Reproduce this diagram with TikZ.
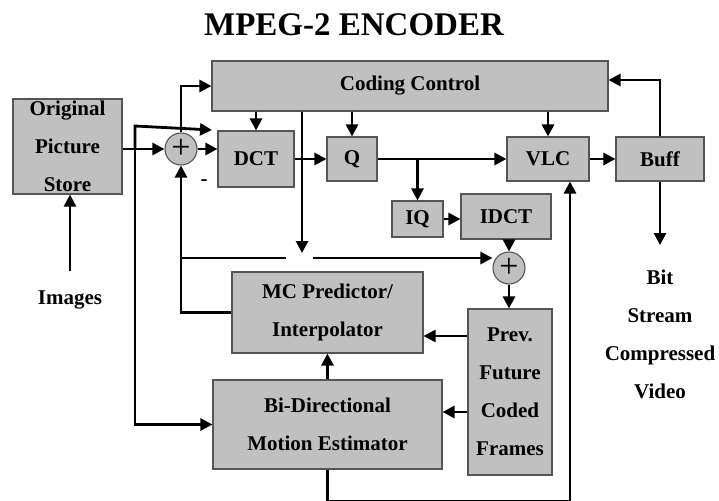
\documentclass[tikz,border=0pt]{standalone}
\usepackage{fontspec}
\setmainfont{Liberation Serif}
\usepackage{tikz}
\usetikzlibrary{arrows.meta, positioning, calc}
\definecolor{boxgray}{HTML}{C0C0C0}
\definecolor{edgegray}{HTML}{555555}
\tikzset{
    block/.style={rectangle, draw=edgegray, line width=1.1pt, fill=boxgray, inner sep=0pt, align=center, text centered, font=\fontsize{21}{38}\selectfont\bfseries},
    sumnode/.style={circle, draw=edgegray, line width=1.1pt, fill=boxgray, minimum size=32pt, inner sep=0pt, font=\fontsize{34}{34}\selectfont},
    lbl/.style={align=center, inner sep=0pt, font=\fontsize{21}{38}\selectfont\bfseries},
    arrow/.style={line width=2.8pt, -{Triangle[length=12pt,width=12pt]}},
    wire/.style={line width=2.8pt}
}

\begin{document}
\begin{tikzpicture}[x=1pt, y=-1pt]
        \useasboundingbox (0,0) rectangle (719,500);
        % Title
        \node (title) [font=\fontsize{33}{33}\selectfont\bfseries] at (354,25) {MPEG-2 ENCODER};

        % Blocks
        \node (store) [block, minimum width=109pt, minimum height=95pt] at (67.5,146.5) {Original\\Picture\\Store};
        \node (cc) [block, minimum width=396pt, minimum height=50pt] at (410,86) {Coding Control};
        \node (dct) [block, minimum width=76pt, minimum height=56pt] at (256,159) {DCT};
        \node (q) [block, minimum width=50pt, minimum height=44pt] at (352,159) {Q};
        \node (vlc) [block, minimum width=82pt, minimum height=44pt] at (548,159) {VLC};
        \node (buff) [block, minimum width=88pt, minimum height=44pt] at (660,159) {Buff};
        \node (iq) [block, minimum width=51pt, minimum height=36pt] at (417.5,219) {IQ};
        \node (idct) [block, minimum width=90pt, minimum height=45pt] at (506,216.5) {IDCT};
        \node (mc) [block, minimum width=191pt, minimum height=81pt] at (327.5,312.5) {MC Predictor/\\Interpolator};
        \node (me) [block, minimum width=229pt, minimum height=89pt] at (327.5,424.5) {Bi-Directional\\Motion Estimator};
        \node (frames) [block, minimum width=84pt, minimum height=166pt] at (510,392) {Prev.\\Future\\Coded\\Frames};

        % Adders
        \node (sum1) [sumnode] at (181,149) {+};
        \node (sum2) [sumnode] at (509,268) {+};

        % Labels
        \node (images) [lbl] at (70,300) {Images};
        \node (out) [lbl] at (660,334) {Bit\\Stream\\Compressed\\Video};
        \node (minus) [lbl] at (204,183) {-};

        % Helper points
        \coordinate (j1) at (135,149);
        \coordinate (ccin) at (212,130);
        \coordinate (gap) at (302,253);
        \coordinate (j2) at (181,258);
        \coordinate (gapL) at (286,258);
        \coordinate (gapR) at (313,258);
        \coordinate (fm) at (0,336);
        \coordinate (fe) at (0,412);
        \coordinate (fb) at (0,80);
        \coordinate (bitend) at (660,245);
        \coordinate (bot) at (0,501);
        \coordinate (vb) at (570,0);

        % Flows
        \draw[arrow] (images.north) ++(0,-20) -- (images.north |- store.south);
        \draw[arrow] (store.east |- sum1) -- (sum1.west);
        \draw[arrow] (j1) -- (135,126) -- (ccin);
        \draw[arrow] (j1) |- (me.west);
        \draw[arrow] (sum1.north) |- (cc.west);
        \draw[arrow] (sum1.east) -- (sum1.east -| dct.west);
        \draw[arrow] (dct.north |- cc.south) -- (dct.north);
        \draw[arrow] (q.north |- cc.south) -- (q.north);
        \draw[arrow] (vlc.north |- cc.south) -- (vlc.north);
        \draw[arrow] (gap |- cc.south) -- (gap);
        \draw[arrow] (dct.east) -- (q.west);
        \draw[arrow] (q.east) -- (vlc.west);
        \draw[arrow] (iq.north |- q.east) -- (iq.north);
        \draw[arrow] (iq.east) -- (iq.east -| idct.west);
        \draw[arrow] (sum2.north |- idct.south) -- (sum2.north);
        \draw[arrow] (sum2.south) -- (sum2.south |- frames.north);
        \draw[arrow] (frames.west |- fm) -- (mc.east |- fm);
        \draw[arrow] (frames.west |- fe) -- (me.east |- fe);
        \draw[arrow] (me.north) -- (mc.south);
        \draw[arrow] (mc.west) -| (sum1.south);
        \draw[wire] (j2) -- (gapL);
        \draw[arrow] (gapR) -- (gapR -| sum2.west);
        \draw[arrow] (vlc.east) -- (buff.west);
        \draw[arrow] (buff.north) |- (cc.east |- fb);
        \draw[arrow] (buff.south) -- (bitend);
        \draw[arrow] (me.south) -- (me.south |- bot) -| (vb |- vlc.south);
    \end{tikzpicture}
\end{document}
